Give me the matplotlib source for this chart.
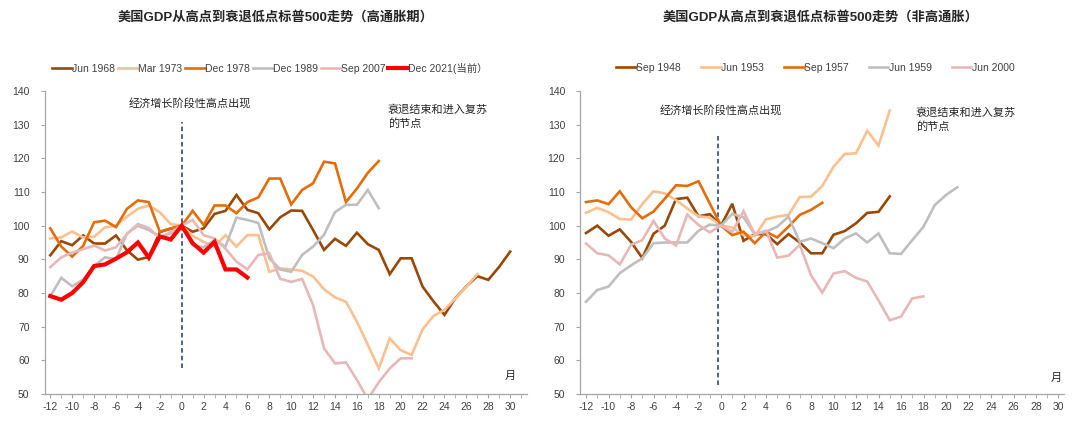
import numpy as np
import matplotlib
matplotlib.use("Agg")
import matplotlib.pyplot as plt

plt.rcParams["font.family"] = ["Liberation Sans", "Noto Sans CJK SC"]
plt.rcParams["axes.unicode_minus"] = False

# ---------------------------------------------------------
# Data: S&P 500 index (GDP peak = 100), month offsets from -12
# ---------------------------------------------------------
jun1968 = [91.2, 95.4, 94.2, 97.1, 94.7, 94.7, 97.1, 92.7, 89.9, 90.7, 98.1, 99.1, 100,
           98.2, 99.2, 103.5, 104.4, 109.1, 104.7, 103.7, 98.9, 102.5, 104.5, 104.4, 98.7,
           92.8, 96.1, 94.0, 97.9, 94.5, 92.8, 85.6, 90.3, 90.3, 81.9, 77.5, 73.5, 78.5,
           82.0, 85.0, 83.9, 87.8, 92.3]
mar1973 = [96.2, 96.5, 98.3, 96.5, 96.7, 99.5, 100.0, 102.7, 105.0, 106.0, 104.0, 100.5, 100,
           97.0, 95.2, 93.8, 97.2, 93.8, 97.2, 97.2, 86.3, 87.3, 87.0, 86.6, 84.9, 81.1, 78.7,
           77.4, 71.5, 64.6, 57.6, 66.5, 63.0, 61.6, 69.2, 73.2, 75.0, 78.4, 81.9, 85.6]
dec1978 = [99.2, 93.8, 90.8, 94.0, 101.0, 101.5, 99.6, 105.0, 107.5, 107.0, 98.2, 99.2, 100,
           104.4, 100.2, 106.0, 106.0, 103.7, 107.0, 108.4, 114.0, 114.0, 106.3, 110.6, 112.6,
           119.0, 118.5, 107.0, 111.0, 115.7, 119.2]
dec1989 = [79.0, 84.5, 82.0, 84.0, 88.0, 90.6, 90.0, 97.7, 100.0, 98.7, 96.7, 97.7, 100,
           94.2, 93.6, 95.7, 93.8, 102.4, 101.7, 100.8, 90.3, 87.0, 86.3, 91.3, 93.8, 97.3,
           104.0, 106.2, 106.2, 110.6, 105.2]
sep2007 = [87.7, 90.6, 92.0, 93.0, 94.1, 92.6, 93.6, 97.5, 100.5, 99.3, 96.3, 98.1, 100,
           101.7, 97.2, 96.2, 93.2, 89.3, 87.0, 91.3, 91.8, 84.2, 83.3, 84.2, 76.4, 63.6, 59.1,
           59.4, 54.2, 48.5, 53.5, 57.6, 60.6, 60.6]
dec2021 = [79.1, 78.0, 80.0, 83.2, 88.0, 88.5, 90.2, 92.1, 95.0, 90.5, 96.8, 95.9, 100,
           94.8, 92.0, 95.2, 87.0, 87.0, 84.6]

sep1948 = [97.8, 100.0, 97.0, 98.9, 95.2, 90.4, 97.6, 100.0, 107.9, 108.3, 102.8, 103.4, 100,
           106.5, 95.5, 97.5, 97.5, 94.5, 97.5, 95.0, 91.8, 91.8, 97.3, 98.4, 100.7, 103.8,
           104.1, 108.7]
jun1953 = [103.8, 105.3, 104.0, 102.0, 101.8, 106.4, 110.2, 109.6, 107.6, 105.1, 102.8, 102.4, 100,
           99.5, 97.2, 96.9, 101.9, 102.7, 103.2, 108.5, 108.6, 111.8, 117.5, 121.3, 121.5,
           128.2, 123.8, 134.2]
sep1957 = [107.0, 107.5, 106.4, 110.2, 105.5, 102.2, 104.2, 108.0, 112.0, 111.8, 113.2, 106.6, 100,
           97.2, 98.2, 94.8, 98.2, 96.5, 99.7, 103.2, 104.7, 106.8]
jun1959 = [77.4, 80.9, 81.9, 85.9, 88.2, 90.3, 94.8, 95.0, 95.0, 95.0, 98.5, 100.3, 100,
           103.5, 102.5, 97.5, 98.2, 99.7, 102.7, 95.2, 96.2, 94.8, 93.3, 96.2, 97.7, 95.0,
           97.7, 91.8, 91.6, 95.7, 99.7, 106.1, 109.1, 111.4]
jun2000 = [94.7, 91.8, 91.2, 88.5, 94.3, 95.7, 101.4, 96.2, 94.1, 103.3, 100.2, 98.0, 100,
           98.2, 104.3, 97.5, 98.5, 90.5, 91.1, 94.3, 85.3, 80.1, 85.8, 86.5, 84.5, 83.4,
           77.8, 71.9, 73.0, 78.4, 79.0]

high_labels = ["Jun 1968", "Mar 1973", "Dec 1978", "Dec 1989", "Sep 2007", "Dec 2021(当前）"]
high_series = [jun1968, mar1973, dec1978, dec1989, sep2007, dec2021]
low_labels = ["Sep 1948", "Jun 1953", "Sep 1957", "Jun 1959", "Jun 2000"]
low_series = [sep1948, jun1953, sep1957, jun1959, jun2000]

BROWN = "#984807"
PEACH = "#FAC090"
ORANGE = "#E46C0A"
GRAY = "#BFBFBF"
PINK = "#E6B9B8"
RED = "#FF0000"
high_colors = [BROWN, PEACH, ORANGE, GRAY, PINK, RED]
low_colors = [BROWN, PEACH, ORANGE, GRAY, PINK]

TXT = "#404040"


def style_axes(ax, xmax):
    ax.set_xlim(-12.5, xmax)
    ax.set_ylim(50, 140)
    for s in ["top", "right"]:
        ax.spines[s].set_visible(False)
    for s in ["left", "bottom"]:
        ax.spines[s].set_color("#A6A6A6")
        ax.spines[s].set_linewidth(0.9)
    ax.set_yticks(np.arange(50, 141, 10))
    ax.set_xticks(np.arange(-12, 31, 2))
    ax.set_xticks(np.arange(-12, int(xmax) + 1, 1), minor=True)
    ax.tick_params(axis="both", which="both", colors="#A6A6A6", labelcolor=TXT,
                   labelsize=7.5, direction="out")
    ax.tick_params(axis="x", which="both", length=3, pad=3)
    ax.tick_params(axis="y", length=3, pad=8)


def draw_panel(ax, series, labels, colors, xmax, vline_x, vline_span, ann_x, ann_y,
               rec_x, rec_y, month_xy):
    lines = []
    for vals, lab, col in zip(series, labels, colors):
        x = np.arange(-12, -12 + len(vals))
        lw = 3.0 if col == RED else 1.9
        ln, = ax.plot(x, vals, color=col, lw=lw, label=lab, solid_joinstyle="miter",
                      zorder=3 if col == RED else 2)
        lines.append(ln)
    ax.plot([vline_x, vline_x], vline_span, color="#1F3864", lw=1.1,
            linestyle=(0, (3, 2)), zorder=1)
    ax.text(ann_x, ann_y, "经济增长阶段性高点出现", ha="center", va="center",
            fontsize=8, color="#262626")
    ax.text(rec_x, rec_y, "衰退结束和进入复苏\n的节点", ha="left", va="top",
            fontsize=8, color="#262626", linespacing=1.3)
    ax.text(month_xy[0], month_xy[1], "月", ha="center", va="center",
            fontsize=8, color="#262626")
    style_axes(ax, xmax)
    return lines


fig = plt.figure(figsize=(10.8, 4.28), dpi=100)

ax1 = fig.add_axes([0.0415, 0.0794, 0.4461, 0.708])
ax2 = fig.add_axes([0.5374, 0.0794, 0.4479, 0.708])

l1 = draw_panel(ax1, high_series, high_labels, high_colors, 31.5, 0, (57.7, 130.8),
                0.7, 136.4, 18.8, 136.0, (30, 55.5))
l2 = draw_panel(ax2, low_series, low_labels, low_colors, 30.5, -0.25, (52.7, 126.9),
                0.0, 134.3, 17.3, 135.0, (29.8, 54.7))

fig.text(0.255, 0.96, "美国GDP从高点到衰退低点标普500走势（高通胀期）", ha="center",
         va="center", fontsize=9.5, fontweight="bold", color="#262626")
fig.text(0.76, 0.96, "美国GDP从高点到衰退低点标普500走势（非高通胀）", ha="center",
         va="center", fontsize=9.5, fontweight="bold", color="#262626")

leg_kw = dict(frameon=False, handlelength=1.9, handletextpad=0.05, columnspacing=0.25,
              fontsize=7.5, labelcolor=TXT, loc="center")
fig.legend(handles=l1, ncol=6, bbox_to_anchor=(0.25, 0.841), **leg_kw)
fig.legend(handles=l2, ncol=5, bbox_to_anchor=(0.755, 0.841),
           **dict(leg_kw, columnspacing=1.9))

fig.savefig("out.png", dpi=100)
